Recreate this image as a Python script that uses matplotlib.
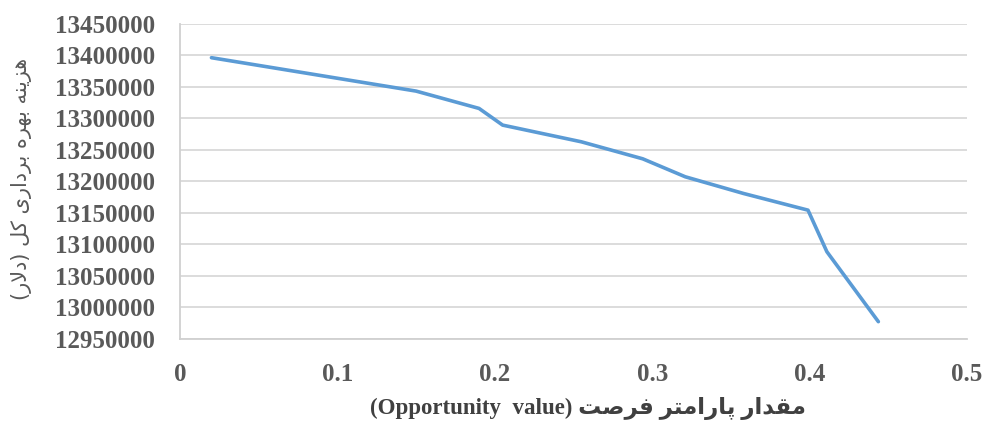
import numpy as np
import matplotlib
matplotlib.use("Agg")
import matplotlib.pyplot as plt
from matplotlib.ticker import MultipleLocator, FuncFormatter

# values
opportunity = [0.02, 0.15, 0.19, 0.205, 0.255, 0.294, 0.321, 0.358, 0.399, 0.411, 0.4437]
total_cost = [13396500, 13343500, 13316000, 13289500, 13263000, 13236000,
              13207500, 13181000, 13154500, 13088500, 12977500]

y_label = "هزینه بهره برداری کل (دلار)"
x_label_fa = "مقدار پارامتر فرصت"
x_label_en = "(Opportunity  value)"

# presentation forms: isolated, final, initial, medial
forms = {
    'ا': ('\uFE8D', '\uFE8E', None, None),
    'ب': ('\uFE8F', '\uFE90', '\uFE91', '\uFE92'),
    'پ': ('\uFB56', '\uFB57', '\uFB58', '\uFB59'),
    'ت': ('\uFE95', '\uFE96', '\uFE97', '\uFE98'),
    'د': ('\uFEA9', '\uFEAA', None, None),
    'ر': ('\uFEAD', '\uFEAE', None, None),
    'ز': ('\uFEAF', '\uFEB0', None, None),
    'ص': ('\uFEB9', '\uFEBA', '\uFEBB', '\uFEBC'),
    'ف': ('\uFED1', '\uFED2', '\uFED3', '\uFED4'),
    'ق': ('\uFED5', '\uFED6', '\uFED7', '\uFED8'),
    'ک': ('\uFB8E', '\uFB8F', '\uFB90', '\uFB91'),
    'ل': ('\uFEDD', '\uFEDE', '\uFEDF', '\uFEE0'),
    'م': ('\uFEE1', '\uFEE2', '\uFEE3', '\uFEE4'),
    'ن': ('\uFEE5', '\uFEE6', '\uFEE7', '\uFEE8'),
    'ه': ('\uFEE9', '\uFEEA', '\uFEEB', '\uFEEC'),
    'ی': ('\uFBFC', '\uFBFD', '\uFBFE', '\uFBFF'),
}
LA = '\x00'
forms_la = ('\uFEFB', '\uFEFC', None, None)


def fa(text):
    # crude shaping + reversal, since matplotlib has no bidi
    s = text.replace('لا', LA)
    out = []
    for i, c in enumerate(s):
        if c == LA:
            f = forms_la
        elif c in forms:
            f = forms[c]
        else:
            out.append(c)
            continue
        p = s[i - 1] if i > 0 else ''
        n = s[i + 1] if i + 1 < len(s) else ''
        jp = p in forms and forms[p][2] is not None
        jn = f[2] is not None and (n in forms or n == LA)
        if jp and jn:
            out.append(f[3])
        elif jp:
            out.append(f[1])
        elif jn:
            out.append(f[2])
        else:
            out.append(f[0])
    vis = ''.join(out)[::-1]
    return vis.translate(str.maketrans('()', ')('))


fig = plt.figure(figsize=(9.85, 4.21), dpi=100)
ax = fig.add_axes([0.1827, 0.1948, 0.7990, 0.7482])

ax.plot(opportunity, total_cost, color='#5B9BD5', lw=2.6, solid_capstyle='round')

ax.set_xlim(0, 0.5)
ax.set_ylim(12950000, 13450000)
ax.xaxis.set_major_locator(MultipleLocator(0.1))
ax.yaxis.set_major_locator(MultipleLocator(50000))
ax.xaxis.set_major_formatter(FuncFormatter(lambda v, p: '0' if v == 0 else f'{v:g}'))
ax.yaxis.set_major_formatter(FuncFormatter(lambda v, p: f'{int(round(v))}'))

ax.grid(axis='y', color='#d9d9d9', lw=1.3)
ax.set_axisbelow(True)
for s in ['top', 'right']:
    ax.spines[s].set_visible(False)
for s in ['left', 'bottom']:
    ax.spines[s].set_color('#d0d0d0')
    ax.spines[s].set_linewidth(1.3)

ax.tick_params(length=0, labelcolor='#595959')
ax.tick_params(axis='y', pad=18)
ax.tick_params(axis='x', pad=17)
for lab in ax.get_xticklabels() + ax.get_yticklabels():
    lab.set_fontfamily('Liberation Serif')
    lab.set_fontweight('bold')
    lab.set_fontsize(18)

fig.text(0.022, 0.575, fa(y_label), rotation=90, ha='center', va='center',
         fontsize=15, color='#595959', family=['DejaVu Sans'])
fig.text(0.597, 0.03, x_label_en + ' ' + fa(x_label_fa), ha='center', va='center',
         fontsize=16.5, fontweight='bold', color='#404040',
         family=['Liberation Serif', 'DejaVu Sans'])

fig.savefig('out.png', dpi=100)
